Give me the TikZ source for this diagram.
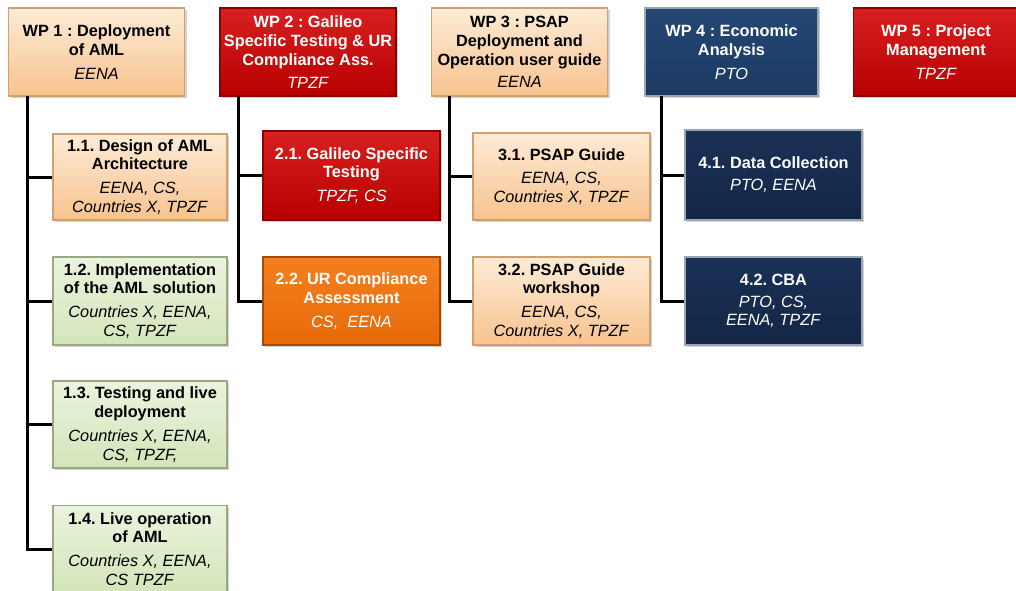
\documentclass[tikz,border=0pt]{standalone}
\usepackage{fontspec}
\setmainfont{Liberation Sans}
\usetikzlibrary{shadows}
\frenchspacing
\definecolor{peachA}{HTML}{FDEBD6}
\definecolor{peachB}{HTML}{F7C38E}
\definecolor{peachE}{HTML}{D0A070}
\definecolor{greenA}{HTML}{EAF3DE}
\definecolor{greenB}{HTML}{D4E5BA}
\definecolor{greenE}{HTML}{98A880}
\definecolor{redA}{HTML}{D82020}
\definecolor{redB}{HTML}{B80000}
\definecolor{redE}{HTML}{8A0000}
\definecolor{orgA}{HTML}{F47F1F}
\definecolor{orgB}{HTML}{E86A08}
\definecolor{orgE}{HTML}{A84A00}
\definecolor{navA}{HTML}{244773}
\definecolor{navB}{HTML}{1B3A63}
\definecolor{dnavA}{HTML}{1A3156}
\definecolor{dnavB}{HTML}{132646}
\definecolor{navE}{HTML}{9AA4B4}
\tikzset{
  box/.style={rectangle, align=center, inner sep=1pt, line width=1.2pt,
    minimum width=#1, drop shadow={opacity=0.35, shadow xshift=2pt, shadow yshift=-2pt},
    font=\fontsize{16.3}{18.8}\selectfont},
  box/.default=176pt,
  peach/.style={top color=peachA, bottom color=peachB, draw=peachE, text=black},
  green/.style={top color=greenA, bottom color=greenB, draw=greenE, text=black},
  red/.style={top color=redA, bottom color=redB, draw=redE, text=white},
  orange/.style={top color=orgA, bottom color=orgB, draw=orgE, text=white},
  navy/.style={top color=navA, bottom color=navB, draw=navE, text=white},
  dnavy/.style={top color=dnavA, bottom color=dnavB, draw=navE, text=white},
  link/.style={line width=3pt, black},
}
\newcommand{\ttl}[1]{\textbf{#1}}
\newcommand{\who}[1]{\textit{#1}}
\begin{document}
\begin{tikzpicture}[x=1pt,y=-1pt]
\useasboundingbox (0,0) rectangle (1016,590);
% connectors
\coordinate (b1) at (27,96);
\coordinate (b2) at (238,96);
\coordinate (b3) at (449,96);
\coordinate (b4) at (661,96);
% WP headers
\node[box, peach, minimum height=88pt] (wp1) at (96.5,52) {\ttl{WP 1 : Deployment}\\\ttl{of AML}\\[5pt]\who{EENA}};
\node[box, red, minimum height=88pt] (wp2) at (308,52) {\ttl{WP 2 : Galileo}\\\ttl{Specific Testing \& UR}\\\ttl{Compliance Ass.}\\[4pt]\who{TPZF}};
\node[box, peach, minimum height=88pt] (wp3) at (519.5,52) {\ttl{WP 3 : PSAP}\\\ttl{Deployment and}\\\ttl{Operation user guide}\\[3pt]\who{EENA}};
\node[box, navy, minimum height=88pt, minimum width=173pt] (wp4) at (731.5,52) {\ttl{WP 4 : Economic}\\\ttl{Analysis}\\[5pt]\who{PTO}};
\node[box, red, minimum height=88pt, minimum width=165pt] (wp5) at (936,52) {\ttl{WP 5 : Project}\\\ttl{Management}\\[5pt]\who{TPZF}};
% WP1 tasks
\node[box=174pt, peach, minimum height=86pt] (t11) at (140,177) {\ttl{1.1. Design of AML}\\\ttl{Architecture}\\[5pt]\who{EENA, CS,}\\\who{Countries X, TPZF}};
\node[box=174pt, green, minimum height=88pt] (t12) at (140,301) {\ttl{1.2. Implementation}\\\ttl{of the AML solution}\\[5pt]\who{Countries X, EENA,}\\\who{CS, TPZF}};
\node[box=174pt, green, minimum height=87pt] (t13) at (140,424.5) {\ttl{1.3. Testing and live}\\\ttl{deployment}\\[5pt]\who{Countries X, EENA,}\\\who{CS, TPZF,}};
\node[box=174pt, green, minimum height=87pt] (t14) at (140,549) {\ttl{1.4. Live operation}\\\ttl{of AML}\\[5pt]\who{Countries X, EENA,}\\\who{CS TPZF}};
% WP2 tasks
\node[box=177pt, red, minimum height=89pt] (t21) at (351.5,175.5) {\ttl{2.1. Galileo Specific}\\\ttl{Testing}\\[5pt]\who{TPZF, CS}};
\node[box=177pt, orange, minimum height=88pt] (t22) at (351.5,301) {\ttl{2.2. UR Compliance}\\\ttl{Assessment}\\[5pt]\who{CS,\ \ EENA}};
% WP3 tasks
\node[box=177pt, peach, minimum height=87pt] (t31) at (561.5,176.5) {\ttl{3.1. PSAP Guide}\\[5pt]\who{EENA, CS,}\\\who{Countries X, TPZF}};
\node[box=177pt, peach, minimum height=88pt] (t32) at (561.5,301) {\ttl{3.2. PSAP Guide}\\\ttl{workshop}\\[5pt]\who{EENA, CS,}\\\who{Countries X, TPZF}};
% WP4 tasks
\node[box=177pt, dnavy, minimum height=90pt] (t41) at (773.5,175) {\ttl{4.1. Data Collection}\\[3pt]\who{PTO, EENA}};
\node[box=177pt, dnavy, minimum height=88pt] (t42) at (773.5,301) {\ttl{4.2. CBA}\\[3pt]\who{PTO, CS,}\\\who{EENA, TPZF}};
\begin{scope}[on background layer/.try]
\draw[link] (b1) |- (t14.west);
\draw[link] (b1 |- t11.west) -- (t11.west);
\draw[link] (b1 |- t12.west) -- (t12.west);
\draw[link] (b1 |- t13.west) -- (t13.west);
\draw[link] (b2) |- (t22.west);
\draw[link] (b2 |- t21.west) -- (t21.west);
\draw[link] (b3) |- (t32.west);
\draw[link] (b3 |- t31.west) -- (t31.west);
\draw[link] (b4) |- (t42.west);
\draw[link] (b4 |- t41.west) -- (t41.west);
\end{scope}
\end{tikzpicture}
\end{document}
